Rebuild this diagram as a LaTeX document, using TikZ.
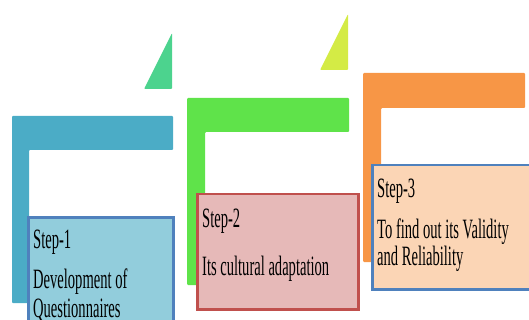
\documentclass[tikz,border=0pt]{standalone}
\usepackage{fontspec}
\setmainfont{Liberation Serif}[FakeStretch=0.52]
\definecolor{lblue}{HTML}{4BACC6}
\definecolor{lgreen}{HTML}{5FE34A}
\definecolor{lorange}{HTML}{F79646}
\definecolor{tgreen}{HTML}{4CD38E}
\definecolor{tyellow}{HTML}{D4EB45}
\definecolor{fblue}{HTML}{92CDDC}
\definecolor{fred}{HTML}{E6B9B8}
\definecolor{forange}{HTML}{FBD5B5}
\definecolor{bblue}{HTML}{4F81BD}
\definecolor{bred}{HTML}{C0504D}
\begin{document}
\begin{tikzpicture}[x=1pt,y=-1pt]
\tikzset{stepbox/.style = {shape=rectangle,draw,line width=2.5pt,anchor=north west,inner sep=0pt}}
\tikzset{steptext/.style = {anchor=base west,inner sep=0pt,font=\fontsize{28}{29}\selectfont}}
\tikzset{bracket/.style = {rounded corners=1pt}}
\useasboundingbox (0,0) rectangle (529,320);
\clip (0,0) rectangle (529,320);
% triangles
\fill[tgreen,bracket] (172,33) -- (172,89) -- (144,89) -- cycle;
\fill[tyellow,bracket] (348,14) -- (348,70) -- (320,70) -- cycle;
% L brackets
\fill[lblue,bracket] (12,116) -- (173,116) -- (173,150) -- (29,150) -- (29,303) -- (12,303) -- cycle;
\fill[lgreen,bracket] (187,98) -- (349,98) -- (349,132) -- (205,132) -- (205,285) -- (187,285) -- cycle;
\fill[lorange,bracket] (363,73) -- (525,73) -- (525,108) -- (381,108) -- (381,262) -- (363,262) -- cycle;
% step boxes
\node[stepbox,draw=bblue,fill=fblue,minimum width=145pt,minimum height=120pt] (s1) at (27,216) {};
\node[stepbox,draw=bred,fill=fred,minimum width=161pt,minimum height=115pt] (s2) at (196,193) {};
\node[stepbox,draw=bblue,fill=forange,minimum width=170pt,minimum height=124pt] (s3) at (371,164) {};
% texts
\node[steptext] (t1a) at (33,248) {Step-1};
\node[steptext] (t1b) at (33,288) {Development of};
\node[steptext] (t1c) at (33,317) {Questionnaires};
\node[steptext] (t2a) at (202,227) {Step-2};
\node[steptext] (t2b) at (202,275) {Its cultural adaptation};
\node[steptext] (t3a) at (377,197) {Step-3};
\node[steptext] (t3b) at (377,238) {To find out its Validity};
\node[steptext] (t3c) at (377,265) {and Reliability};
\end{tikzpicture}
\end{document}
